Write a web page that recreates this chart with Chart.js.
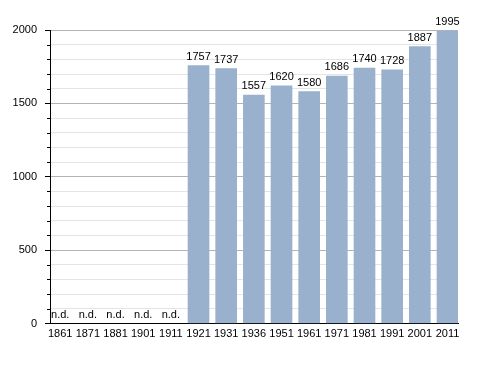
<!DOCTYPE html>
<html>
<head>
<meta charset="utf-8">
<script src="https://cdn.jsdelivr.net/npm/chart.js@4/dist/chart.umd.min.js"></script>
<style>
  html, body { margin: 0; padding: 0; background: #fff; }
  #wrap { width: 488px; height: 373px; }
</style>
</head>
<body>
<div id="wrap"><canvas id="popChart" width="488" height="373"></canvas></div>
<script>
"use strict";

// DATA -----------------------
const years = ["1861", "1871", "1881", "1901", "1911", "1921", "1931", "1936",
  "1951", "1961", "1971", "1981", "1991", "2001", "2011"];

// null = no data (n.d.)
const population = [null, null, null, null, null, 1757, 1737, 1557,
  1620, 1580, 1686, 1740, 1728, 1887, 1995];

const yTicks = [0, 500, 1000, 1500, 2000];

// STYLE -----------------------
const barColor = '#9ab1cd';
const font = { family: "'Liberation Sans', Arial, sans-serif", size: 11 };

// Value labels above bars, "n.d." where no data
const valueLabels = {
  id: 'valueLabels',
  afterDatasetsDraw(chart) {
    const { ctx, scales: { x, y } } = chart;
    ctx.save();
    ctx.font = `${font.size}px ${font.family}`;
    ctx.fillStyle = '#000';
    ctx.textAlign = 'center';
    ctx.textBaseline = 'middle';
    population.forEach((v, i) => {
      const px = x.getPixelForValue(i);
      const py = y.getPixelForValue(v === null ? 0 : v);
      ctx.fillText(v === null ? 'n.d.' : String(v), px, py - 9);
    });
    ctx.restore();
  }
};

// Short minor tick marks on the y axis
const minorTicks = {
  id: 'minorTicks',
  afterDraw(chart) {
    const { ctx, scales: { y } } = chart;
    ctx.save();
    ctx.strokeStyle = '#000';
    ctx.lineWidth = 1;
    y.ticks.forEach(t => {
      if (t.value % 500 === 0) return;
      const py = Math.round(y.getPixelForValue(t.value)) + 0.5;
      ctx.beginPath();
      ctx.moveTo(y.right - 3, py);
      ctx.lineTo(y.right, py);
      ctx.stroke();
    });
    ctx.restore();
  }
};

new Chart(document.getElementById('popChart'), {
  type: 'bar',
  data: {
    datasets: [{
      data: population.map((v, i) => ({ x: i, y: v })),
      backgroundColor: barColor,
      borderWidth: 0,
      barThickness: 21
    }]
  },
  options: {
    responsive: false,
    animation: false,
    events: [],
    layout: { padding: { top: 30, right: 30, left: 0, bottom: 0 } },
    plugins: { legend: { display: false }, tooltip: { enabled: false } },
    scales: {
      x: {
        type: 'linear',
        offset: false,
        min: -0.369,
        max: 14.38,
        grid: { display: true, drawOnChartArea: false, drawTicks: false },
        border: { color: '#000', width: 1 },
        afterFit(scale) { scale.height = 49.5; },
        ticks: {
          stepSize: 1,
          includeBounds: false,
          autoSkip: false,
          maxRotation: 0,
          padding: 4,
          color: '#000',
          font: font,
          callback: v => Number.isInteger(v) ? years[v] : ''
        }
      },
      y: {
        min: 0,
        max: 2000,
        afterFit(scale) { scale.width = 50; },
        border: { color: '#000', width: 1 },
        grid: {
          color: c => (c.tick && c.tick.value % 500 === 0) ? '#b4b4b4' : '#e4e4e4',
          tickColor: c => (c.tick && c.tick.value % 500 === 0) ? '#000' : 'rgba(0,0,0,0)',
          tickLength: 5
        },
        ticks: {
          stepSize: 100,
          autoSkip: false,
          padding: 8,
          color: '#000',
          font: font,
          callback: v => yTicks.includes(v) ? v : ''
        }
      }
    }
  },
  plugins: [valueLabels, minorTicks]
});
</script>
</body>
</html>
